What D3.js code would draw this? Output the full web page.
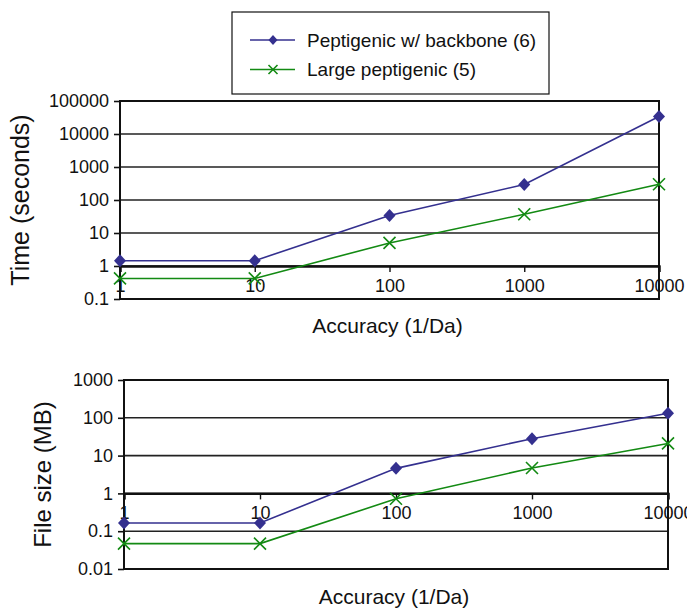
<!DOCTYPE html>
<html>
<head>
<meta charset="utf-8">
<script src="https://cdn.jsdelivr.net/npm/d3@7"></script>
<style>
  body { margin: 0; background: #fff; }
  text { font-family: "Liberation Sans", Arial, sans-serif; fill: #111; }
</style>
</head>
<body>
<div id="chart"></div>
<script>
// data
var accuracy = [1, 10, 100, 1000, 10000];
var seriesNames = ["Peptigenic w/ backbone (6)", "Large peptigenic (5)"];
var timeBackbone = [1.45, 1.45, 34, 295, 34000];
var timeLarge = [0.42, 0.42, 5, 37, 300];
var sizeBackbone = [0.165, 0.165, 4.6, 28, 132];
var sizeLarge = [0.047, 0.047, 0.72, 4.7, 21];
var timeTicks = [0.1, 1, 10, 100, 1000, 10000, 100000];
var sizeTicks = [0.01, 0.1, 1, 10, 100, 1000];

var colors = ["#34308f", "#138a13"];

var svg = d3.select("#chart")
  .append("svg")
    .attr("width", 687)
    .attr("height", 608);

// s = half size of marker
function drawMarker(g, kind, color, s) {
  if (kind === 0) {
    g.append("path")
      .attr("d", "M0," + (-s - 0.5) + "L" + s + ",0L0," + (s + 0.5) + "L" + (-s) + ",0Z")
      .style("fill", color);
  } else {
    g.append("path")
      .attr("d", "M" + (-s) + "," + (-s) + "L" + s + "," + s + "M" + (-s) + "," + s + "L" + s + "," + (-s))
      .style("stroke", color)
      .style("stroke-width", 1.6)
      .style("fill", "none");
  }
}

// one panel: box, grid, axis at y=1, two lines
function panel(opt) {
  var g = svg.append("g");
  var x = d3.scaleLog().domain([1, 10000]).range([opt.left, opt.right]);
  var y = d3.scaleLog().domain([opt.ticks[0], opt.ticks[opt.ticks.length - 1]]).range([opt.bottom, opt.top]);

  // gridlines
  g.selectAll(".grid")
    .data(opt.ticks)
    .enter().append("line")
      .attr("x1", opt.left).attr("x2", opt.right)
      .attr("y1", function(d) { return y(d); })
      .attr("y2", function(d) { return y(d); })
      .style("stroke", "#222")
      .style("stroke-width", 1.6);

  // frame
  g.append("rect")
    .attr("x", opt.left).attr("y", opt.top)
    .attr("width", opt.right - opt.left)
    .attr("height", opt.bottom - opt.top)
    .style("fill", "none")
    .style("stroke", "#111")
    .style("stroke-width", 2);

  // y axis
  var yAxis = d3.axisLeft(y)
    .tickValues(opt.ticks)
    .tickSize(6)
    .tickPadding(5)
    .tickFormat(function(d) { return String(d); });
  var ya = g.append("g")
    .attr("transform", "translate(" + opt.left + ",0)")
    .call(yAxis);
  ya.select(".domain").remove();
  ya.selectAll("line").style("stroke", "#111").style("stroke-width", 1.6);
  ya.selectAll("text").style("font-size", "18px").style("fill", "#111");

  // x axis crosses at y = 1
  var xAxis = d3.axisBottom(x)
    .tickValues(accuracy)
    .tickSize(6)
    .tickPadding(7)
    .tickFormat(function(d) { return String(d); });
  var xa = g.append("g")
    .attr("transform", "translate(0," + y(1) + ")")
    .call(xAxis);
  xa.select(".domain")
    .style("stroke", "#111")
    .style("stroke-width", 2.4);
  xa.selectAll("line").style("stroke", "#111").style("stroke-width", 1.4);
  xa.selectAll("text").style("font-size", "18px").style("fill", "#111");

  // series
  var line = d3.line()
    .x(function(d) { return x(d[0]); })
    .y(function(d) { return y(d[1]); });

  opt.series.forEach(function(vals, i) {
    var pts = accuracy.map(function(a, j) { return [a, vals[j]]; });
    g.append("path")
      .datum(pts)
      .attr("d", line)
      .style("fill", "none")
      .style("stroke", colors[i])
      .style("stroke-width", 1.6);
    pts.forEach(function(p) {
      var m = g.append("g")
        .attr("transform", "translate(" + x(p[0]) + "," + y(p[1]) + ")");
      drawMarker(m, i, colors[i], 6);
    });
  });

  // axis titles
  g.append("text")
    .attr("x", (opt.left + opt.right) / 2 - 2)
    .attr("y", opt.xTitleY)
    .attr("text-anchor", "middle")
    .style("font-size", "21px")
    .text("Accuracy (1/Da)");

  g.append("text")
    .attr("transform", "translate(" + opt.yTitleX + "," + ((opt.top + opt.bottom) / 2) + ") rotate(-90)")
    .attr("text-anchor", "middle")
    .style("font-size", opt.yTitleSize)
    .text(opt.yTitle);
}

panel({
  left: 120, right: 659, top: 101, bottom: 299,
  ticks: timeTicks,
  series: [timeBackbone, timeLarge],
  xTitleY: 333,
  yTitleX: 29,
  yTitleSize: "25px",
  yTitle: "Time (seconds)"
});

panel({
  left: 124, right: 668, top: 380, bottom: 569,
  ticks: sizeTicks,
  series: [sizeBackbone, sizeLarge],
  xTitleY: 604,
  yTitleX: 51,
  yTitleSize: "24px",
  yTitle: "File size (MB)"
});

// legend
var legend = svg.append("g");
legend.append("rect")
  .attr("x", 232).attr("y", 12)
  .attr("width", 317).attr("height", 82)
  .style("fill", "#fff")
  .style("stroke", "#111")
  .style("stroke-width", 1.2);

seriesNames.forEach(function(name, i) {
  var yy = 40 + i * 29.5;
  legend.append("line")
    .attr("x1", 250).attr("x2", 295)
    .attr("y1", yy).attr("y2", yy)
    .style("stroke", colors[i])
    .style("stroke-width", 1.6);
  var m = legend.append("g").attr("transform", "translate(273," + yy + ")");
  drawMarker(m, i, colors[i], 4.5);
  legend.append("text")
    .attr("x", 307)
    .attr("y", yy + 6.5)
    .style("font-size", "19px")
    .text(name);
});
</script>
</body>
</html>
